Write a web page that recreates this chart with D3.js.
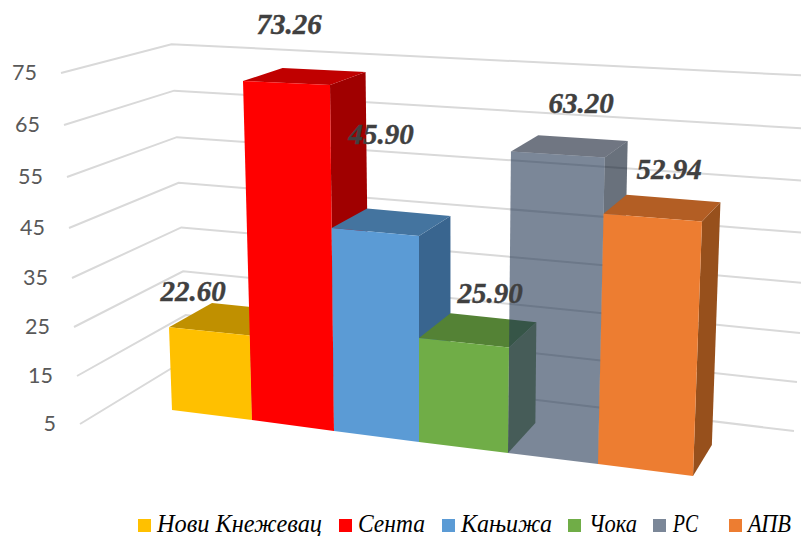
<!DOCTYPE html>
<html><head><meta charset="utf-8">
<script src="https://cdn.jsdelivr.net/npm/d3@7"></script>
<style>html,body{margin:0;padding:0;background:#fff}svg{display:block}</style></head>
<body><div id="chart"></div>
<script>
const categories = ["Нови Кнежевац","Сента","Кањижа","Чока","РС","АПВ"];
const values = [22.60,73.26,45.90,25.90,63.20,52.94];
const valueLabels = ["22.60","73.26","45.90","25.90","63.20","52.94"];
const tickValues = [5,15,25,35,45,55,65,75];

const frontColors = ["#ffc000","#ff0000","#5b9bd5","#70ad47","#233753","#ed7d31"];
const topColors   = ["#c09000","#c00000","#44749f","#548235","#111b2f","#b35e24"];
const sideColors  = ["#a07800","#a00000","#39658f","#7a935f","#051225","#97501c"];
const legendColors = ["#ffc000","#ff0000","#5b9bd5","#70ad47","#7b8798","#ed7d31"];

// ---- projection tables (layout only)
const W=801,H=536;
const railLeftX = d3.scaleLinear().domain(tickValues).range([80,77,74,72,69,67,64,61]);
const railLeftY = d3.scaleLinear().domain(tickValues).range([424,376,327,278,228,177,125,73]);
const railRightX = d3.scaleLinear().domain(tickValues).range([794,797,800,803,806,809,812,815]);
const railRightY = d3.scaleLinear().domain(tickValues).range([431,382,333,283,233,181,129,76]);
const columns = d3.range(categories.length+1);
const colBotX = d3.scaleLinear().domain(columns).range([172,252,334,419,508,598,693]);
const colBotY = d3.scaleLinear().domain(columns).range([410,420,431,442,453,464,476]);
const colTopX = d3.scaleLinear().domain(columns).range([160,243,330,419,511.5,606,706]);
const colTopY = d3.scaleLinear().domain(columns).range([78,81,85,91,97,102,108]);
const maxValue = d3.max(values);
const heightT = v => (railLeftY(5)-railLeftY(v))/(railLeftY(5)-railLeftY(maxValue));
const VP=[1103,-199];
const toVP=(p,s)=>[p[0]+s*(VP[0]-p[0]),p[1]+s*(VP[1]-p[1])];
const front=(u,v)=>{const t=heightT(v);return [colBotX(u)+t*(colTopX(u)-colBotX(u)),colBotY(u)+t*(colTopY(u)-colBotY(u))];};
const depth=0.046, wallDepth=0.106;
const back=(u,v)=>toVP(front(u,v),depth);

const svg=d3.select("#chart").append("svg").attr("width",W).attr("height",H);
const line=d3.line();

// gridlines
svg.append("g").selectAll("path").data(tickValues).join("path")
  .attr("d",v=>{const a=[railLeftX(v),railLeftY(v)];return line([a,toVP(a,wallDepth),[railRightX(v),railRightY(v)]]);})
  .attr("fill","none").attr("stroke","#d9d9d9").attr("stroke-width",2);

// tick labels
svg.append("g").selectAll("text").data(tickValues).join("text")
  .attr("x",v=>railLeftX(v)-24).attr("y",v=>railLeftY(v)+2)
  .attr("text-anchor","end").attr("dominant-baseline","middle")
  .attr("font-family","Lato").attr("font-size",21.5).attr("fill","#595959").text(d=>d);

// bars: painted left to right; grey is translucent
const bars=svg.append("g");
values.forEach((v,i)=>{
  const o=i===4?0.6:1;
  const g=bars.append("g").attr("fill-opacity",o);
  g.append("path").attr("d",line([front(i+1,v),back(i+1,v),back(i+1,5),front(i+1,5)])+"Z").attr("fill",sideColors[i]);
  g.append("path").attr("d",line([front(i,v),back(i,v),back(i+1,v),front(i+1,v)])+"Z").attr("fill",topColors[i]);
  g.append("path").attr("d",line([front(i,v),front(i+1,v),front(i+1,5),front(i,5)])+"Z").attr("fill",frontColors[i]);
});

// value labels
const labelPos=[[193,301],[289,34],[381,144],[490,303],[581,113],[669,179]];
svg.append("g").selectAll("text").data(valueLabels).join("text")
  .attr("x",(d,i)=>labelPos[i][0]).attr("y",(d,i)=>labelPos[i][1])
  .attr("text-anchor","middle").attr("font-family","Liberation Serif")
  .attr("font-weight","bold").attr("font-style","italic").attr("font-size",29)
  .attr("fill","#404040").attr("stroke","#404040").attr("stroke-width",0.4).text(d=>d);

// legend
const legendSwatchX=[138,339,442,568,653,729];
const legendTextX=[157,358,461,589,673,748];
const legendTextW=[165,67,91,48,25,43];
const lg=svg.append("g").selectAll("g").data(categories).join("g");
lg.append("rect").attr("x",(d,i)=>legendSwatchX[i]).attr("y",519).attr("width",13).attr("height",13)
  .attr("fill",(d,i)=>legendColors[i]);
lg.append("text").attr("x",(d,i)=>legendTextX[i]).attr("y",532)
  .attr("textLength",(d,i)=>legendTextW[i]).attr("lengthAdjust","spacingAndGlyphs")
  .attr("font-family","Liberation Serif").attr("font-style","italic").attr("font-size",25)
  .attr("fill","#000").text(d=>d);
</script></body></html>
